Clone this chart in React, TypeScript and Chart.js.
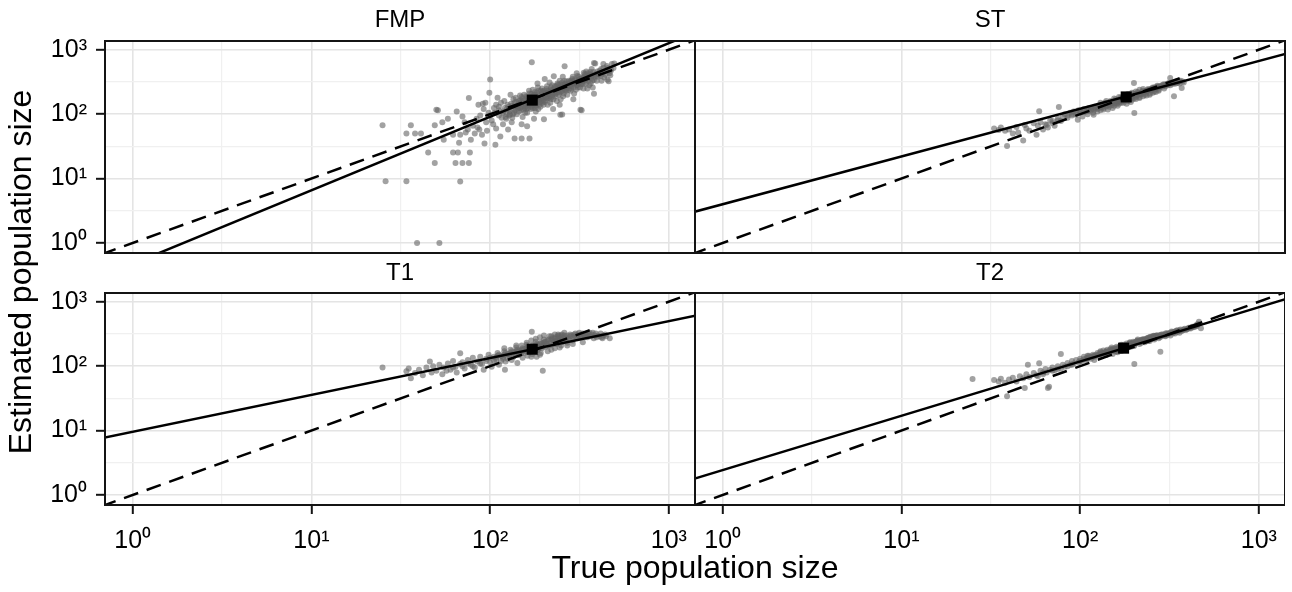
import React, { useEffect, useRef } from "react";
import { Chart, registerables } from "chart.js";

Chart.register(...registerables);

const FONT = "'Liberation Sans', Arial, Helvetica, sans-serif";

// ---------- text ----------
const panelNames = ["FMP", "ST", "T1", "T2"];
const xAxisTitle = "True population size";
const yAxisTitle = "Estimated population size";

// ---------- ticks ----------
const majorTicks = [1, 10, 100, 1000];
const majorTickLabels = ["10⁰", "10¹", "10²", "10³"];
const minorTicks = [3.162, 31.62, 316.2];

// ---------- axis ranges ----------
const xRange = [0.714, 1400];
const yRange = [0.718, 1365];

// ---------- reference (identity) line ----------
const identityLine: [number, number][] = [[0.5, 0.5], [2000, 2000]];

// ---------- fitted lines ----------
const fmpFit: [number, number][] = [[0.5, 0.215], [2000, 2790]];
const stFit: [number, number][] = [[0.5, 2.39], [2000, 1114]];
const t1Fit: [number, number][] = [[0.5, 6.42], [2000, 743]];
const t2Fit: [number, number][] = [[0.5, 1.36], [2000, 1476]];

// ---------- means ----------
const fmpMean: [number, number] = [172, 165];
const stMean: [number, number] = [181, 185];
const t1Mean: [number, number] = [172, 183];
const t2Mean: [number, number] = [175, 190];

// ---------- simulated estimates (true, estimated) ----------
const fmpPoints: [number, number][] = [
  [39, 1], [52, 1], [26, 9.1], [34, 9.1], [68, 9], [25, 67], [36, 67], [49, 17.4], [64, 17.4], [70, 17.4],
  [76, 17.4], [45, 25.5], [62, 25.5], [66, 25.5], [77, 25.5], [34, 50], [38, 50], [41, 50], [49, 67], [54, 75],
  [51, 115], [100, 345], [171, 640], [99, 215], [137, 42], [150, 42], [166, 42], [107, 33.5], [261, 555], [387, 611],
  [325, 115], [381, 207], [460, 325], [253, 99], [200, 83], [161, 65], [227, 388], [334, 439], [50, 117], [76, 178],
  [381, 621], [453, 343], [320, 117], [247, 98],
  [68, 48], [72, 75], [75, 58], [70, 92], [78, 40], [80, 66],
  [85, 62], [88, 95], [92, 120], [90, 48], [95, 75], [98, 105], [86, 140], [93, 35],
  [102, 80], [105, 125], [108, 60], [112, 95], [115, 150], [110, 180], [118, 70], [106, 105], [114, 45],
  [122, 90], [125, 140], [128, 110], [132, 75], [135, 170], [130, 200], [138, 130], [126, 58], [134, 100], [140, 155], [124, 120],
  [145, 110], [148, 165], [150, 130], [152, 90], [155, 200], [158, 145], [160, 120], [162, 175], [150, 70], [165, 230],
  [146, 150], [157, 105], [163, 140],
  [170, 130], [172, 190], [175, 150], [178, 220], [180, 110], [182, 170], [185, 260], [188, 140], [190, 195], [176, 85],
  [184, 300], [173, 240], [186, 120], [179, 160], [192, 230],
  [198, 160], [200, 230], [205, 180], [208, 270], [210, 140], [212, 205], [215, 310], [218, 170], [220, 240], [225, 120],
  [202, 350], [216, 190], [222, 280], [206, 215],
  [232, 190], [235, 270], [240, 220], [245, 330], [248, 170], [252, 250], [255, 380], [258, 210], [262, 290], [245, 140],
  [265, 230], [238, 300], [260, 330],
  [275, 240], [280, 320], [285, 270], [290, 380], [295, 210], [300, 300], [305, 430], [310, 260], [315, 350], [292, 170],
  [320, 290], [285, 330], [308, 390],
  [330, 290], [335, 380], [340, 330], [345, 460], [350, 250], [355, 360], [360, 420], [365, 300], [370, 500], [380, 340],
  [390, 420], [375, 260],
  [400, 380], [410, 470], [420, 330], [430, 520], [440, 410], [450, 560], [460, 460], [470, 400], [480, 600], [455, 520],
  [165, 160], [168, 145], [174, 175], [177, 135], [183, 185], [187, 165], [193, 175], [196, 150], [160, 155], [155, 165],
  [142, 135], [138, 115], [195, 250], [204, 165], [228, 210], [170, 205], [150, 185], [128, 95], [118, 110], [112, 130],
  [100, 95], [104, 70], [108, 140], [112, 115], [116, 88], [120, 160], [124, 100], [127, 130], [131, 145], [133, 88],
  [136, 120], [139, 180], [141, 100], [144, 130], [147, 195], [149, 115], [151, 160], [153, 140], [156, 125], [159, 190],
  [161, 105], [164, 150], [166, 210], [169, 120], [171, 165], [174, 140], [176, 200], [178, 125], [181, 150], [183, 215],
  [186, 180], [189, 155], [191, 130], [194, 205], [197, 185], [199, 140], [203, 200], [207, 245], [209, 175], [213, 225],
  [217, 150], [219, 260], [223, 200], [226, 170], [229, 250], [233, 230], [236, 160], [239, 285], [242, 200], [246, 260],
  [249, 225], [253, 310], [256, 190], [259, 260], [263, 240], [267, 320], [270, 200], [272, 270], [278, 300], [282, 230],
  [288, 350], [293, 260], [297, 330], [302, 240], [306, 280], [312, 330], [318, 260], [323, 360], [328, 320], [333, 250],
  [338, 420], [343, 300], [348, 390], [353, 330], [358, 280], [363, 450], [368, 360], [373, 400], [385, 380], [395, 330],
  [405, 430], [415, 390], [425, 450], [435, 370], [445, 480], [465, 430], [475, 480], [490, 520], [495, 610], [430, 600],
  [55, 40], [58, 85], [62, 48], [65, 110], [67, 36], [73, 52], [82, 50], [84, 85], [87, 58], [91, 145], [96, 55], [94, 150],
  [118, 105], [121, 125], [123, 85], [127, 118], [129, 100], [132, 135], [136, 105], [137, 150], [143, 122], [145, 160],
  [147, 125], [149, 145], [152, 175], [154, 118], [157, 150], [158, 130], [161, 185], [163, 125], [166, 170], [167, 140],
  [169, 185], [171, 150], [173, 125], [175, 185], [177, 165], [179, 200], [181, 135], [184, 165], [186, 230], [188, 175],
  [190, 150], [192, 185], [195, 170], [197, 225], [200, 190], [202, 155], [204, 210], [207, 190], [210, 230], [212, 180],
  [214, 200], [218, 225], [221, 185], [224, 235], [227, 215], [230, 270], [232, 205], [237, 245], [241, 255], [244, 215],
  [247, 290], [251, 270], [254, 230], [257, 285], [261, 260], [264, 300], [268, 250], [273, 290], [276, 330], [281, 280],
  [284, 250], [289, 310], [294, 290], [299, 350], [304, 310], [309, 290], [314, 380], [319, 320], [326, 300], [331, 360],
  [336, 340], [342, 400], [347, 350], [352, 430], [357, 380], [366, 410], [372, 330], [378, 450], [388, 400], [398, 460],
  [408, 410], [418, 500], [428, 440],
];

const stPoints: [number, number][] = [
  [33, 60], [35, 57], [36, 62], [38, 55], [39, 32], [40, 58], [42, 50], [44, 63], [45, 52], [48, 39],
  [49, 68], [50, 60], [52, 55], [55, 72], [57, 48], [58, 66], [60, 75], [62, 58], [64, 70], [59, 111],
  [66, 62], [68, 80], [70, 72], [72, 66], [75, 85], [76, 129], [78, 78],
  [80, 90], [82, 100], [85, 88], [88, 105], [90, 95], [92, 110], [95, 98], [97, 82], [98, 115], [100, 105],
  [103, 92], [105, 120], [108, 110], [110, 100], [112, 125], [115, 115], [118, 105], [119, 98], [120, 130],
  [125, 120], [128, 135], [130, 115], [133, 140], [135, 125], [138, 150], [140, 132], [143, 118], [145, 145],
  [148, 160], [150, 138], [152, 125], [155, 155], [158, 170], [160, 145], [162, 135], [165, 165], [168, 180],
  [170, 150], [172, 160], [175, 175], [178, 195], [180, 165], [182, 145], [185, 185], [188, 200], [190, 170],
  [192, 155], [195, 190], [198, 210], [200, 175], [201, 104], [200, 304],
  [205, 195], [210, 220], [215, 185], [220, 205], [225, 230], [230, 200], [235, 215], [240, 245], [245, 210],
  [250, 235], [255, 260], [260, 225], [265, 245], [270, 275], [275, 240], [280, 260], [290, 285], [295, 250],
  [300, 270], [310, 300], [319, 363], [320, 280], [330, 310], [335, 189], [340, 295], [350, 320], [360, 300],
  [370, 255], [380, 310],
  [163, 158], [176, 168], [186, 172], [193, 182], [172, 178], [183, 192], [206, 208], [150, 150], [140, 142],
  [100, 112], [105, 108], [110, 118], [115, 122], [120, 118], [125, 128], [130, 132], [135, 138], [140, 148], [145, 140],
  [150, 155], [155, 148], [160, 160], [165, 155], [170, 168], [175, 162], [180, 180], [185, 175], [190, 188], [195, 180],
  [200, 195], [205, 185], [210, 205], [215, 200], [220, 215], [225, 210], [230, 222], [235, 228], [240, 232], [245, 238],
  [250, 245], [255, 240], [260, 250], [265, 255], [270, 262], [280, 272], [290, 268], [300, 285], [310, 280], [320, 300],
  [330, 295], [340, 315], [350, 305], [360, 325], [125, 110], [135, 118], [145, 130], [155, 135], [165, 145], [175, 150],
  [185, 160], [195, 168], [205, 172], [215, 178], [225, 190], [235, 195], [245, 200], [255, 215], [265, 220], [275, 230],
  [155, 175], [165, 185], [175, 195], [185, 205], [195, 215], [205, 225], [215, 240], [225, 245], [130, 150], [140, 160],
  [90, 100], [95, 108], [85, 95], [75, 80], [65, 68], [70, 78],
  [112, 112], [118, 120], [122, 125], [128, 125], [132, 128], [138, 135], [142, 138], [148, 145], [152, 150], [158, 152],
  [162, 158], [168, 162], [172, 170], [178, 172], [182, 175], [188, 180], [192, 190], [198, 192], [202, 200], [208, 198],
  [212, 210], [218, 208], [222, 220], [228, 218], [232, 228], [238, 235], [242, 240], [248, 238], [252, 250], [258, 255],
  [262, 262], [268, 258], [272, 268], [278, 265], [285, 275], [295, 290], [305, 292], [315, 305], [325, 310], [335, 305],
  [345, 325], [355, 315], [365, 330], [375, 320],
];

const t1Points: [number, number][] = [
  [25, 95], [34, 83], [35, 92], [36, 65], [38, 78], [40, 88], [42, 72], [44, 95], [46, 118], [47, 80],
  [48, 100], [50, 85], [52, 105], [54, 75], [55, 95], [58, 110], [60, 88], [62, 120], [64, 98], [65, 80],
  [68, 159], [68, 108], [70, 115], [72, 92], [75, 125], [78, 105], [80, 135], [82, 95], [85, 118], [88, 140],
  [90, 108], [92, 88], [95, 130], [98, 150], [100, 115], [102, 98], [105, 140], [108, 125], [110, 160], [112, 105],
  [115, 145], [118, 130], [120, 170], [121, 88], [122, 118], [125, 155], [128, 140], [130, 180], [132, 125],
  [135, 165], [138, 150], [140, 195], [142, 112], [145, 175], [148, 160], [150, 210], [152, 135], [155, 185],
  [158, 170], [160, 230], [162, 145], [165, 195], [168, 175], [170, 250], [171, 343], [172, 155], [175, 205],
  [178, 185], [180, 265], [182, 140], [185, 215], [188, 190], [190, 280], [192, 160], [195, 225], [197, 85],
  [198, 200], [200, 300], [205, 240], [210, 210], [215, 290], [220, 180], [225, 250], [230, 310], [235, 220],
  [240, 270], [245, 195], [250, 300], [255, 240], [260, 330], [265, 260], [270, 210], [280, 290], [290, 250],
  [300, 320], [310, 270], [320, 300], [330, 235], [340, 310], [350, 280], [360, 330], [380, 270], [400, 300],
  [420, 280], [440, 310], [467, 271],
  [165, 170], [176, 180], [184, 178], [190, 200], [170, 190], [160, 180], [200, 215], [150, 160], [145, 150],
  [100, 135], [105, 120], [110, 145], [115, 120], [120, 150], [125, 130], [130, 160], [135, 140], [140, 170], [145, 150],
  [150, 180], [155, 160], [160, 190], [165, 165], [170, 200], [175, 175], [180, 210], [185, 180], [190, 220], [195, 190],
  [200, 230], [205, 200], [210, 250], [215, 210], [220, 260], [225, 220], [230, 270], [235, 240], [240, 290], [245, 250],
  [250, 280], [255, 260], [260, 300], [270, 270], [280, 310], [290, 280], [300, 290], [310, 310], [320, 280], [330, 320],
  [340, 290], [350, 300], [370, 310], [390, 320], [410, 290], [430, 300], [120, 190], [140, 210], [160, 215], [180, 240],
  [200, 260], [220, 290], [240, 310], [170, 140], [190, 150], [210, 170], [230, 190], [250, 210], [270, 230], [290, 220],
  [95, 120], [88, 110], [80, 100], [75, 110], [70, 100], [62, 95], [57, 85],
  [108, 135], [112, 150], [118, 140], [122, 160], [128, 150], [132, 170], [138, 160], [142, 180], [148, 170], [152, 190],
  [158, 175], [162, 200], [168, 185], [172, 210], [178, 195], [182, 220], [188, 200], [192, 230], [198, 210], [202, 240],
  [208, 220], [212, 260], [218, 230], [222, 270], [228, 240], [232, 280], [238, 250], [242, 300], [248, 260], [252, 310],
  [258, 270], [262, 280], [268, 300], [275, 260], [285, 300], [295, 310], [305, 280], [315, 330], [325, 300], [335, 290],
  [345, 320], [355, 310], [365, 290], [375, 330], [385, 300], [395, 280], [415, 320], [425, 270], [445, 290],
];

const t2Points: [number, number][] = [
  [25, 63], [33, 61], [35, 58], [36, 64], [38, 55], [39, 34], [40, 62], [42, 66], [44, 58], [46, 70],
  [48, 65], [49, 46], [50, 75], [51, 105], [52, 68], [55, 78], [57, 72], [59, 111], [60, 85], [62, 80],
  [64, 90], [66, 46], [67, 48], [68, 88], [70, 95], [72, 86], [75, 100], [78, 155], [78, 92], [80, 105],
  [82, 98], [85, 112], [88, 105], [90, 120], [92, 110], [95, 125], [98, 115], [100, 130], [102, 120], [105, 140],
  [108, 125], [110, 135], [112, 145], [115, 130], [118, 150], [120, 140], [125, 160], [128, 145], [130, 165],
  [132, 150], [135, 175], [138, 160], [140, 150], [142, 180], [145, 165], [148, 185], [150, 170], [152, 155],
  [155, 190], [158, 175], [160, 200], [162, 165], [165, 190], [168, 210], [170, 180], [172, 195], [175, 215],
  [178, 185], [180, 205], [182, 225], [185, 195], [188, 210], [190, 230], [192, 200], [195, 220], [198, 240],
  [201, 108], [200, 210], [205, 230], [210, 250], [215, 220], [220, 240], [225, 260], [230, 235], [235, 255],
  [240, 275], [245, 245], [250, 265], [255, 290], [260, 260], [265, 280], [270, 300], [275, 270], [281, 168],
  [280, 290], [290, 310], [300, 290], [310, 320], [320, 300], [330, 340], [340, 320], [350, 360], [360, 330],
  [380, 370], [400, 380], [420, 400], [440, 410], [462, 489], [474, 387],
  [163, 182], [176, 198], [186, 205], [170, 172], [158, 168], [195, 205], [145, 158], [140, 165],
  [100, 120], [105, 128], [110, 130], [115, 140], [120, 145], [125, 150], [130, 155], [135, 160], [140, 170], [145, 172],
  [150, 180], [155, 180], [160, 185], [165, 195], [170, 200], [175, 195], [180, 210], [185, 210], [190, 215], [195, 225],
  [200, 225], [205, 240], [210, 235], [215, 245], [220, 255], [225, 250], [230, 260], [235, 265], [240, 260], [245, 280],
  [250, 280], [255, 275], [260, 290], [265, 295], [270, 285], [280, 305], [290, 295], [300, 320], [310, 310], [320, 330],
  [330, 320], [340, 345], [350, 340], [360, 360], [370, 350], [390, 365], [410, 390], [430, 400], [450, 420], [120, 125],
  [140, 150], [160, 170], [180, 190], [200, 205], [220, 230], [240, 245], [260, 270], [280, 280], [300, 300], [90, 105],
  [85, 100], [75, 90], [70, 85], [65, 80], [62, 75], [58, 70], [110, 145], [130, 170], [150, 195], [170, 215],
  [190, 235], [210, 260],
  [108, 132], [112, 138], [118, 142], [122, 148], [128, 152], [132, 160], [138, 165], [142, 168], [148, 175], [152, 182],
  [158, 188], [162, 190], [168, 198], [172, 205], [178, 200], [182, 212], [188, 220], [192, 222], [198, 230], [202, 232],
  [208, 245], [212, 240], [218, 250], [222, 258], [228, 262], [232, 255], [238, 270], [242, 268], [248, 285], [252, 275],
  [258, 295], [262, 285], [268, 300], [275, 290], [285, 310], [295, 305], [305, 325], [315, 320], [325, 345], [335, 335],
  [345, 355], [355, 350], [365, 370], [375, 360], [385, 380], [395, 375], [405, 395], [415, 385], [425, 410], [445, 430],
  [455, 450],
];

// ---------- helpers ----------
const allTicks = [...majorTicks, ...minorTicks].sort((a, b) => a - b);
const near = (a: number, b: number) => Math.abs(a - b) / b < 1e-6;
const isMajor = (v: number) => majorTicks.some((m) => near(v, m));
const tickLabel = (v: number) => {
  const i = majorTicks.findIndex((m) => near(v, m));
  return i >= 0 ? majorTickLabels[i] : "";
};
const toXY = (arr: [number, number][]) => arr.map(([x, y]) => ({ x, y }));

const framePlugin = {
  id: "panelFrame",
  afterDatasetsDraw(chart: any) {
    const { ctx, chartArea: a } = chart;
    ctx.save();
    ctx.strokeStyle = "#141414";
    ctx.lineWidth = 2;
    ctx.strokeRect(a.left, a.top, a.right - a.left, a.bottom - a.top);
    ctx.restore();
  },
};

type Spec = {
  name: string;
  points: [number, number][];
  fit: [number, number][];
  mean: [number, number];
  box: { x: number; y: number; w: number; h: number };
  padding: { top: number; left: number; right: number; bottom: number };
  titlePad: { top: number; bottom: number };
  yAxisWidth: number;
  xAxisHeight: number;
  showX: boolean;
  showY: boolean;
  subtitle?: { text: string; position: "left" | "bottom"; padding: { top: number; bottom: number } };
};

const specs: Spec[] = [
  {
    name: panelNames[0], points: fmpPoints, fit: fmpFit, mean: fmpMean,
    box: { x: 0, y: 0, w: 700, h: 544 },
    padding: { top: 0, left: 0, right: 5, bottom: 0 },
    titlePad: { top: 6, bottom: 6.2 },
    yAxisWidth: 63.6, xAxisHeight: 291, showX: false, showY: true,
    subtitle: { text: yAxisTitle, position: "left", padding: { top: 3, bottom: 0 } },
  },
  {
    name: panelNames[1], points: stPoints, fit: stFit, mean: stMean,
    box: { x: 600, y: 0, w: 692, h: 260 },
    padding: { top: 0, left: 95, right: 7, bottom: 0 },
    titlePad: { top: 6, bottom: 6.2 },
    yAxisWidth: 0, xAxisHeight: 7, showX: false, showY: false,
  },
  {
    name: panelNames[2], points: t1Points, fit: t1Fit, mean: t1Mean,
    box: { x: 0, y: 0, w: 700, h: 592 },
    padding: { top: 252, left: 0, right: 5, bottom: 0 },
    titlePad: { top: 7, bottom: 5.2 },
    yAxisWidth: 105, xAxisHeight: 87, showX: true, showY: true,
  },
  {
    name: panelNames[3], points: t2Points, fit: t2Fit, mean: t2Mean,
    box: { x: 105, y: 0, w: 1180, h: 592 },
    padding: { top: 252, left: 0, right: 0, bottom: 0 },
    titlePad: { top: 7, bottom: 5.2 },
    yAxisWidth: 590, xAxisHeight: 44.6, showX: true, showY: false,
    subtitle: { text: xAxisTitle, position: "bottom", padding: { top: 0, bottom: 4 } },
  },
];

function axisOptions(spec: Spec, axis: "x" | "y") {
  const show = axis === "x" ? spec.showX : spec.showY;
  const range = axis === "x" ? xRange : yRange;
  return {
    type: "logarithmic",
    min: range[0],
    max: range[1],
    afterBuildTicks: (s: any) => {
      s.ticks = allTicks.map((v) => ({ value: v }));
    },
    afterFit: (s: any) => {
      if (axis === "x") s.height = spec.xAxisHeight;
      else s.width = spec.yAxisWidth;
      s.paddingTop = 0;
      s.paddingBottom = 0;
      s.paddingLeft = 0;
      s.paddingRight = 0;
    },
    ticks: {
      display: show,
      autoSkip: false,
      maxRotation: 0,
      minRotation: 0,
      padding: axis === "x" ? 12 : 9,
      color: "#000",
      font: { family: FONT, size: 25 },
      callback: (v: any) => tickLabel(Number(v)),
    },
    grid: {
      color: (c: any) => (c.tick && isMajor(c.tick.value) ? "#e4e4e4" : "#f0f0f0"),
      lineWidth: (c: any) => (c.tick && isMajor(c.tick.value) ? 1.6 : 1.2),
      drawTicks: show,
      tickLength: 9,
      tickWidth: 2,
      tickColor: (c: any) => (c.tick && isMajor(c.tick.value) ? "#141414" : "rgba(0,0,0,0)"),
    },
    border: { display: false },
  };
}

function buildConfig(spec: Spec): any {
  return {
    type: "scatter",
    data: {
      datasets: [
        {
          label: "estimates",
          data: toXY(spec.points),
          pointRadius: 3,
          pointBackgroundColor: "rgba(100,100,100,0.6)",
          pointBorderWidth: 0,
          order: 3,
        },
        {
          label: "identity",
          data: toXY(identityLine),
          showLine: true,
          borderColor: "#000",
          borderWidth: 2.5,
          borderDash: [15, 9],
          pointRadius: 0,
          order: 2,
        },
        {
          label: "fit",
          data: toXY(spec.fit),
          showLine: true,
          borderColor: "#000",
          borderWidth: 2.5,
          pointRadius: 0,
          order: 1,
        },
        {
          label: "mean",
          data: toXY([spec.mean]),
          pointStyle: "rect",
          pointRadius: 7.8,
          pointBackgroundColor: "#000",
          pointBorderWidth: 0,
          order: 0,
        },
      ],
    },
    options: {
      responsive: false,
      animation: false,
      devicePixelRatio: 1,
      events: [],
      layout: { padding: spec.padding, autoPadding: false },
      plugins: {
        legend: { display: false },
        tooltip: { enabled: false },
        title: {
          display: true,
          text: spec.name,
          position: "top",
          fullSize: false,
          color: "#000",
          font: { family: FONT, size: 24, weight: "normal", lineHeight: 1.2 },
          padding: spec.titlePad,
        },
        subtitle: spec.subtitle
          ? {
              display: true,
              text: spec.subtitle.text,
              position: spec.subtitle.position,
              fullSize: true,
              color: "#000",
              font: { family: FONT, size: 32, weight: "normal", lineHeight: 1.2 },
              padding: spec.subtitle.padding,
            }
          : { display: false },
      },
      scales: {
        x: axisOptions(spec, "x"),
        y: axisOptions(spec, "y"),
      },
    },
    plugins: [framePlugin],
  };
}

function Panel({ spec }: { spec: Spec }) {
  const ref = useRef<HTMLCanvasElement | null>(null);
  useEffect(() => {
    if (!ref.current) return;
    const chart = new Chart(ref.current, buildConfig(spec));
    return () => chart.destroy();
  }, [spec]);
  return (
    <canvas
      ref={ref}
      width={spec.box.w}
      height={spec.box.h}
      style={{
        position: "absolute",
        left: spec.box.x,
        top: spec.box.y,
        width: spec.box.w,
        height: spec.box.h,
      }}
    />
  );
}

export default function App() {
  return (
    <div
      style={{
        position: "fixed",
        left: 0,
        top: 0,
        width: 1292,
        height: 592,
        background: "#fff",
        overflow: "hidden",
      }}
    >
      {specs.map((s) => (
        <Panel key={s.name} spec={s} />
      ))}
    </div>
  );
}
